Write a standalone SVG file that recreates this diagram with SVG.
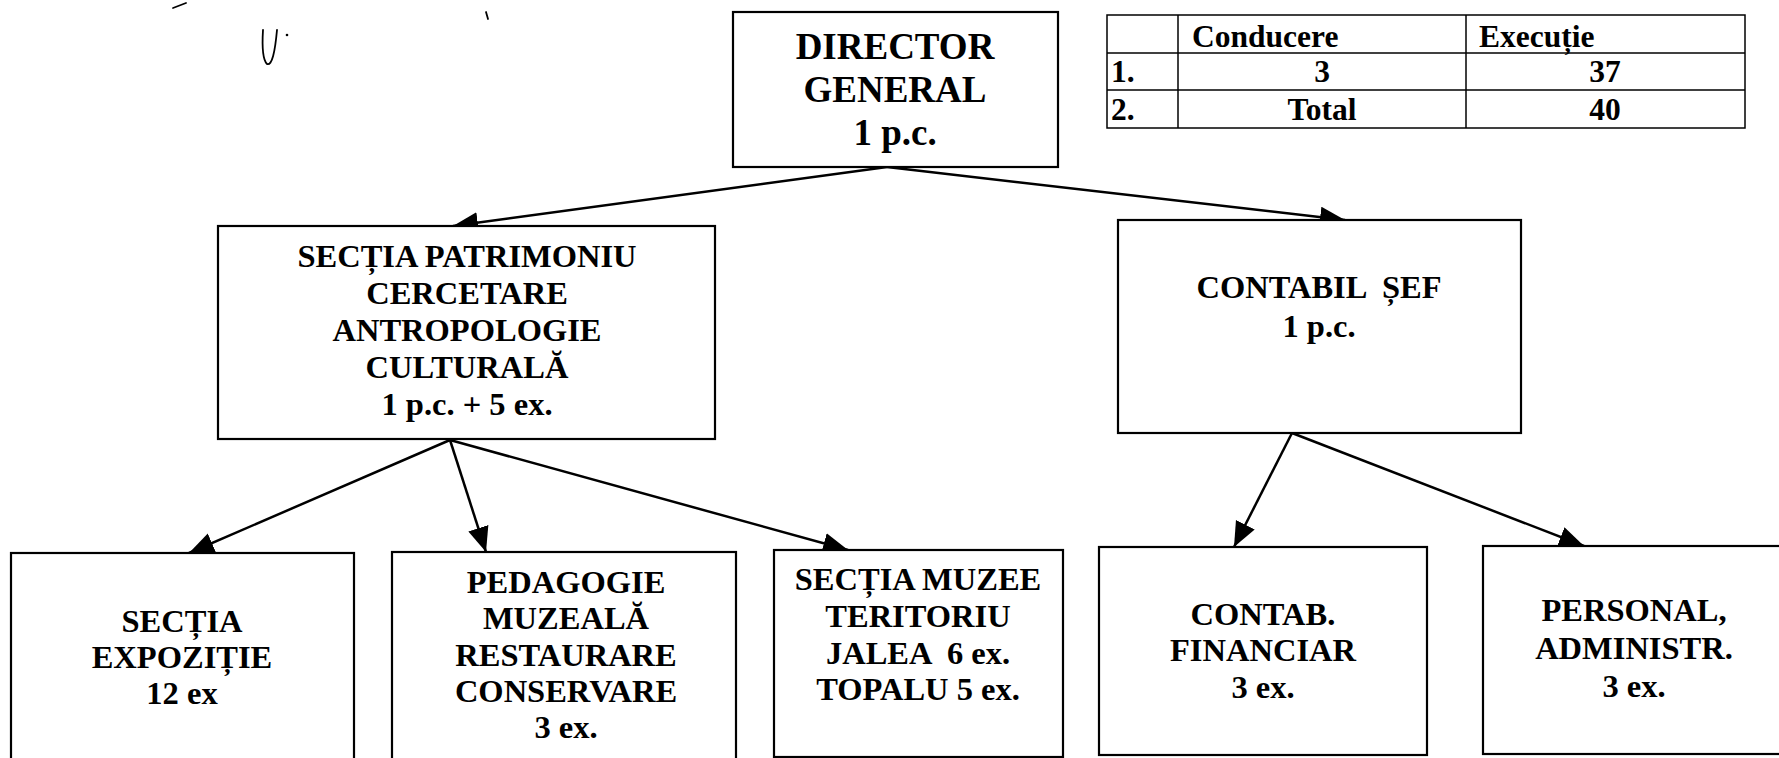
<svg xmlns="http://www.w3.org/2000/svg" width="1779" height="758" viewBox="0 0 1779 758">
  <style>
    .box { fill: #ffffff; stroke: #000000; stroke-width: 2.2; }
    .t { font-family: "Liberation Serif", "Times New Roman", serif; font-weight: bold; fill: #000000; text-anchor: middle; }
    .body { font-size: 32.5px; }
    .dir { font-size: 37px; }
    .tab { font-family: "Liberation Serif", "Times New Roman", serif; font-weight: bold; font-size: 31.5px; fill: #000000; }
    .grid { fill: none; stroke: #000000; stroke-width: 1.5; }
    .conn { fill: none; stroke: #000000; stroke-width: 2.5; marker-end: url(#arrow); }
    .mark { fill: none; stroke: #000000; stroke-width: 1.8; stroke-linecap: round; }
  </style>
  <defs>
    <marker id="arrow" markerUnits="userSpaceOnUse" markerWidth="28" markerHeight="24" refX="25" refY="10.5" orient="auto">
      <path d="M0,0 L25,10.5 L0,21 Z" fill="#000000"/>
    </marker>
  </defs>
  <rect width="1779" height="758" fill="#ffffff"/>

  <g id="scan-marks">
    <path class="mark" d="M173,8 L186,3"/>
    <path class="mark" d="M263,30 C262,46 263,60 267,64 C272,66 275,52 277,30"/>
    <circle cx="287" cy="35" r="1.3" fill="#000000"/>
    <path class="mark" d="M486,12 L488,19"/>
  </g>

  <g id="connectors">
    <line class="conn" x1="887" y1="167" x2="453" y2="226"/>
    <line class="conn" x1="887" y1="167" x2="1345" y2="220"/>
    <line class="conn" x1="450" y1="440" x2="189" y2="553"/>
    <line class="conn" x1="450" y1="440" x2="486" y2="552"/>
    <line class="conn" x1="450" y1="440" x2="848" y2="550"/>
    <line class="conn" x1="1292" y1="433" x2="1234" y2="547"/>
    <line class="conn" x1="1292" y1="433" x2="1584" y2="546"/>
  </g>

  <g id="director-general">
    <rect class="box" x="733" y="12" width="325" height="155"/>
    <text class="t dir" x="895" y="59">DIRECTOR</text>
    <text class="t dir" x="895" y="102">GENERAL</text>
    <text class="t dir" x="895" y="145">1 p.c.</text>
  </g>

  <g id="staff-table">
    <rect class="grid" x="1107" y="15" width="638" height="113"/>
    <line class="grid" x1="1107" y1="53" x2="1745" y2="53"/>
    <line class="grid" x1="1107" y1="90" x2="1745" y2="90"/>
    <line class="grid" x1="1178" y1="15" x2="1178" y2="128"/>
    <line class="grid" x1="1466" y1="15" x2="1466" y2="128"/>
    <text class="tab" x="1192" y="47">Conducere</text>
    <text class="tab" x="1479" y="47">Execuție</text>
    <text class="tab" x="1111" y="82">1.</text>
    <text class="tab" x="1322" y="82" text-anchor="middle">3</text>
    <text class="tab" x="1605" y="82" text-anchor="middle">37</text>
    <text class="tab" x="1111" y="120">2.</text>
    <text class="tab" x="1322" y="120" text-anchor="middle">Total</text>
    <text class="tab" x="1605" y="120" text-anchor="middle">40</text>
  </g>

  <g id="sectia-patrimoniu">
    <rect class="box" x="218" y="226" width="497" height="213"/>
    <text class="t body" x="467" y="267">SECȚIA PATRIMONIU</text>
    <text class="t body" x="467" y="304">CERCETARE</text>
    <text class="t body" x="467" y="341">ANTROPOLOGIE</text>
    <text class="t body" x="467" y="378">CULTURALĂ</text>
    <text class="t body" x="467" y="415">1 p.c. + 5 ex.</text>
  </g>

  <g id="contabil-sef">
    <rect class="box" x="1118" y="220" width="403" height="213"/>
    <text class="t body" x="1319" y="298" xml:space="preserve">CONTABIL  ȘEF</text>
    <text class="t body" x="1319" y="337">1 p.c.</text>
  </g>

  <g id="sectia-expozitie">
    <rect class="box" x="11" y="553" width="343" height="220"/>
    <text class="t body" x="182" y="632">SECȚIA</text>
    <text class="t body" x="182" y="668">EXPOZIȚIE</text>
    <text class="t body" x="182" y="704">12 ex</text>
  </g>

  <g id="pedagogie-muzeala">
    <rect class="box" x="392" y="552" width="344" height="221"/>
    <text class="t body" x="566" y="593">PEDAGOGIE</text>
    <text class="t body" x="566" y="629">MUZEALĂ</text>
    <text class="t body" x="566" y="666">RESTAURARE</text>
    <text class="t body" x="566" y="702">CONSERVARE</text>
    <text class="t body" x="566" y="738">3 ex.</text>
  </g>

  <g id="sectia-muzee">
    <rect class="box" x="774" y="550" width="289" height="207"/>
    <text class="t body" x="918" y="590">SECȚIA MUZEE</text>
    <text class="t body" x="918" y="627">TERITORIU</text>
    <text class="t body" x="918" y="664" xml:space="preserve">JALEA  6 ex.</text>
    <text class="t body" x="918" y="700">TOPALU 5 ex.</text>
  </g>

  <g id="contab-financiar">
    <rect class="box" x="1099" y="547" width="328" height="208"/>
    <text class="t body" x="1263" y="625">CONTAB.</text>
    <text class="t body" x="1263" y="661">FINANCIAR</text>
    <text class="t body" x="1263" y="698">3 ex.</text>
  </g>

  <g id="personal-administr">
    <rect class="box" x="1483" y="546" width="310" height="208"/>
    <text class="t body" x="1634" y="621">PERSONAL,</text>
    <text class="t body" x="1634" y="659">ADMINISTR.</text>
    <text class="t body" x="1634" y="697">3 ex.</text>
  </g>
</svg>
